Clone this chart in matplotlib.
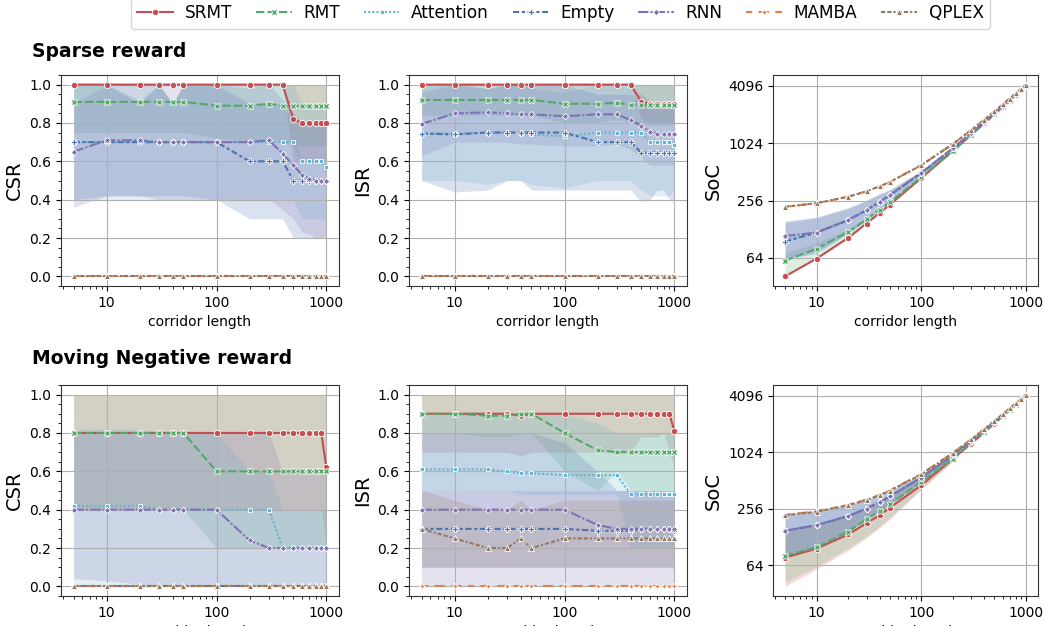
import matplotlib
matplotlib.use("Agg")
import matplotlib.pyplot as plt
from matplotlib.ticker import FixedLocator, FuncFormatter, NullLocator, AutoMinorLocator

# corridor lengths
X = [5, 10, 20, 30, 40, 50, 100, 200, 300, 400, 500, 600, 700, 800, 900, 1000]
METHODS = ["SRMT", "RMT", "Attention", "Empty", "RNN", "MAMBA", "QPLEX"]

# seaborn "deep" colours
COLORS = {"SRMT": "#c44e52", "RMT": "#55a868", "Attention": "#64b5cd", "Empty": "#4c72b0",
          "RNN": "#8172b3", "MAMBA": "#dd8452", "QPLEX": "#937860"}
MARKERS = {"SRMT": "o", "RMT": "X", "Attention": (4, 0, 45), "Empty": "P",
           "RNN": (4, 0, 0), "MAMBA": (4, 1, 0), "QPLEX": "^"}
DASHES = {"SRMT": None, "RMT": (4, 1.5), "Attention": (1, 1), "Empty": (3, 1.25, 1.5, 1.25),
          "RNN": (5, 1, 1, 1), "MAMBA": (3, 3, 5, 3, 5, 3), "QPLEX": (2, 1, 2, 1, 1, 1)}

# ---------------- Sparse reward ----------------
sparse_csr = {
    "SRMT": [1, 1, 1, 1, 1, 1, 1, 1, 1, 1, 0.82, 0.8, 0.8, 0.8, 0.8, 0.8],
    "RMT": [0.91, 0.91, 0.91, 0.91, 0.91, 0.91, 0.89, 0.89, 0.90, 0.89, 0.89, 0.89, 0.89, 0.89, 0.89, 0.89],
    "Attention": [0.70, 0.70, 0.70, 0.70, 0.70, 0.70, 0.70, 0.70, 0.70, 0.70, 0.70, 0.60, 0.60, 0.60, 0.60, 0.57],
    "Empty": [0.70, 0.70, 0.70, 0.70, 0.70, 0.70, 0.70, 0.60, 0.60, 0.60, 0.50, 0.50, 0.50, 0.50, 0.50, 0.50],
    "RNN": [0.65, 0.71, 0.71, 0.70, 0.70, 0.70, 0.70, 0.70, 0.71, 0.64, 0.58, 0.53, 0.51, 0.50, 0.50, 0.50],
    "MAMBA": [0, 0, 0, 0, 0, 0, 0, 0, 0, 0, 0, 0, 0, 0, 0, 0],
    "QPLEX": [0, 0, 0, 0, 0, 0, 0, 0, 0, 0, 0, 0, 0, 0, 0, 0],
}
sparse_csr_lo = {
    "SRMT": [1, 1, 1, 1, 1, 1, 1, 1, 1, 1, 0.6, 0.6, 0.6, 0.6, 0.6, 0.6],
    "RMT": [0.75, 0.75, 0.75, 0.75, 0.75, 0.75, 0.72, 0.7, 0.72, 0.7, 0.68, 0.68, 0.68, 0.68, 0.68, 0.68],
    "Attention": [0.4, 0.4, 0.4, 0.4, 0.4, 0.4, 0.4, 0.4, 0.4, 0.4, 0.4, 0.3, 0.3, 0.3, 0.3, 0.3],
    "Empty": [0.4, 0.42, 0.42, 0.42, 0.42, 0.42, 0.4, 0.3, 0.3, 0.3, 0.2, 0.2, 0.2, 0.2, 0.2, 0.2],
    "RNN": [0.36, 0.42, 0.42, 0.4, 0.4, 0.4, 0.4, 0.4, 0.4, 0.35, 0.3, 0.23, 0.22, 0.2, 0.2, 0.2],
}
sparse_csr_hi = {
    "SRMT": [1, 1, 1, 1, 1, 1, 1, 1, 1, 1, 1, 1, 1, 1, 1, 1],
    "RMT": [1, 1, 0.92, 1, 0.9, 1, 1, 0.98, 1, 1, 1, 1, 1, 1, 1, 1],
    "Attention": [1, 1, 1, 1, 0.9, 1, 1, 1, 1, 1, 1, 0.9, 0.9, 0.9, 0.9, 0.85],
    "Empty": [1, 1, 0.9, 1, 0.9, 1, 1, 0.9, 0.9, 0.9, 0.8, 0.8, 0.8, 0.8, 0.8, 0.8],
    "RNN": [0.9, 1, 1, 1, 1, 1, 1, 1, 1, 0.92, 0.85, 0.8, 0.8, 0.8, 0.8, 0.8],
}

sparse_isr = {
    "SRMT": [1, 1, 1, 1, 1, 1, 1, 1, 1, 1, 0.91, 0.90, 0.90, 0.90, 0.90, 0.90],
    "RMT": [0.92, 0.92, 0.92, 0.92, 0.92, 0.92, 0.90, 0.90, 0.905, 0.895, 0.895, 0.895, 0.895, 0.895, 0.895, 0.895],
    "Attention": [0.745, 0.745, 0.75, 0.75, 0.75, 0.74, 0.73, 0.75, 0.75, 0.75, 0.75, 0.70, 0.70, 0.70, 0.70, 0.685],
    "Empty": [0.745, 0.74, 0.75, 0.75, 0.75, 0.75, 0.75, 0.70, 0.70, 0.70, 0.645, 0.645, 0.645, 0.645, 0.645, 0.645],
    "RNN": [0.795, 0.85, 0.855, 0.85, 0.845, 0.845, 0.835, 0.845, 0.845, 0.815, 0.785, 0.755, 0.745, 0.74, 0.74, 0.74],
    "MAMBA": [0, 0, 0, 0, 0, 0, 0, 0, 0, 0, 0, 0, 0, 0, 0, 0],
    "QPLEX": [0, 0, 0, 0, 0, 0, 0, 0, 0, 0, 0, 0, 0, 0, 0, 0],
}
sparse_isr_lo = {
    "SRMT": [1, 1, 1, 1, 1, 1, 1, 1, 1, 1, 0.82, 0.8, 0.8, 0.8, 0.8, 0.8],
    "RMT": [0.84, 0.84, 0.84, 0.84, 0.84, 0.84, 0.8, 0.8, 0.82, 0.8, 0.79, 0.79, 0.79, 0.79, 0.79, 0.79],
    "Attention": [0.5, 0.5, 0.48, 0.5, 0.5, 0.48, 0.46, 0.5, 0.5, 0.5, 0.45, 0.42, 0.42, 0.42, 0.42, 0.45],
    "Empty": [0.5, 0.44, 0.45, 0.5, 0.5, 0.45, 0.45, 0.45, 0.45, 0.45, 0.39, 0.40, 0.45, 0.45, 0.4, 0.39],
    "RNN": [0.63, 0.7, 0.7, 0.7, 0.69, 0.69, 0.68, 0.68, 0.69, 0.66, 0.62, 0.58, 0.58, 0.58, 0.58, 0.58],
}
sparse_isr_hi = {
    "SRMT": [1, 1, 1, 1, 1, 1, 1, 1, 1, 1, 1, 1, 1, 1, 1, 1],
    "RMT": [1, 1, 1, 1, 1, 1, 1, 1, 1, 1, 1, 1, 1, 1, 1, 1],
    "Attention": [1, 1, 0.98, 1, 1, 0.98, 0.96, 1, 1, 1, 1, 1, 1, 1, 1, 1],
    "Empty": [0.99, 1, 0.98, 1, 1, 1, 1, 0.95, 0.95, 0.95, 0.9, 0.9, 0.9, 0.9, 0.9, 0.9],
    "RNN": [0.96, 1, 1, 1, 1, 1, 1, 1, 1, 0.98, 0.95, 0.92, 0.9, 0.9, 0.9, 0.9],
}

sparse_soc = {
    "SRMT": [41, 63, 104, 147, 190, 231, 440, 845, 1250, 1650, 2050, 2450, 2850, 3250, 3650, 4050],
    "RMT": [60, 80, 120, 162, 205, 245, 450, 850, 1250, 1650, 2050, 2450, 2850, 3250, 3650, 4060],
    "Attention": [100, 120, 160, 203, 248, 291, 497, 902, 1302, 1702, 2102, 2502, 2902, 3302, 3702, 4100],
    "Empty": [95, 118, 159, 202, 247, 290, 495, 900, 1300, 1700, 2100, 2500, 2900, 3300, 3700, 4100],
    "RNN": [109, 118, 160, 204, 248, 292, 500, 905, 1305, 1705, 2105, 2505, 2905, 3305, 3705, 4110],
    "MAMBA": [220, 240, 280, 320, 360, 400, 600, 1000, 1400, 1800, 2200, 2600, 3000, 3400, 3800, 4200],
    "QPLEX": [220, 240, 280, 320, 360, 400, 600, 1000, 1400, 1800, 2200, 2600, 3000, 3400, 3800, 4200],
}
# SoC bands only for the first 8 lengths (5..200); beyond that they are hair-thin
sparse_soc_lo = {
    "RMT": [42, 62, 102, 145, 188, 229, 438, 840],
    "Attention": [62, 72, 115, 158, 205, 250, 455, 860],
    "Empty": [62, 72, 115, 158, 205, 250, 455, 860],
    "RNN": [64, 75, 118, 160, 207, 252, 460, 865],
}
sparse_soc_hi = {
    "RMT": [72, 92, 128, 168, 212, 252, 462, 868],
    "Attention": [155, 170, 213, 256, 300, 330, 525, 920],
    "Empty": [150, 168, 210, 253, 297, 328, 522, 918],
    "RNN": [156, 172, 216, 260, 303, 332, 528, 922],
}

# ---------------- Moving Negative reward ----------------
moving_csr = {
    "SRMT": [0.8, 0.8, 0.8, 0.8, 0.8, 0.8, 0.8, 0.8, 0.8, 0.8, 0.8, 0.8, 0.8, 0.8, 0.8, 0.62],
    "RMT": [0.8, 0.8, 0.8, 0.8, 0.8, 0.8, 0.6, 0.6, 0.6, 0.6, 0.6, 0.6, 0.6, 0.6, 0.6, 0.6],
    "Attention": [0.42, 0.42, 0.42, 0.40, 0.40, 0.40, 0.40, 0.40, 0.40, 0.20, 0.20, 0.20, 0.20, 0.20, 0.20, 0.20],
    "Empty": [0, 0, 0, 0, 0, 0, 0, 0, 0, 0, 0, 0, 0, 0, 0, 0],
    "RNN": [0.40, 0.40, 0.40, 0.40, 0.40, 0.40, 0.40, 0.24, 0.20, 0.20, 0.20, 0.20, 0.20, 0.20, 0.20, 0.20],
    "MAMBA": [0, 0, 0, 0, 0, 0, 0, 0, 0, 0, 0, 0, 0, 0, 0, 0],
    "QPLEX": [0, 0, 0, 0, 0, 0, 0, 0, 0, 0, 0, 0, 0, 0, 0, 0],
}
moving_csr_lo = {
    "SRMT": [0.4, 0.4, 0.4, 0.4, 0.4, 0.4, 0.4, 0.4, 0.4, 0.4, 0.4, 0.4, 0.4, 0.4, 0.4, 0.2],
    "RMT": [0.4, 0.4, 0.4, 0.4, 0.4, 0.4, 0.2, 0.2, 0.2, 0.2, 0.2, 0.2, 0.2, 0.2, 0.2, 0.2],
    "Attention": [0, 0, 0, 0, 0, 0, 0, 0, 0, 0, 0, 0, 0, 0, 0, 0],
    "RNN": [0.04, 0.03, 0.01, 0, 0, 0, 0, 0, 0, 0, 0, 0, 0, 0, 0, 0],
}
moving_csr_hi = {
    "SRMT": [1, 1, 1, 1, 1, 1, 1, 1, 1, 1, 1, 1, 1, 1, 1, 1],
    "RMT": [1, 1, 1, 1, 1, 1, 1, 1, 1, 1, 1, 1, 1, 1, 1, 1],
    "Attention": [0.82, 0.82, 0.82, 0.8, 0.8, 0.8, 0.8, 0.6, 0.6, 0.4, 0.4, 0.4, 0.4, 0.4, 0.4, 0.4],
    "RNN": [0.8, 0.8, 0.8, 0.8, 0.8, 0.8, 0.8, 0.8, 0.8, 0.6, 0.6, 0.6, 0.6, 0.6, 0.6, 0.6],
}

moving_isr = {
    "SRMT": [0.9, 0.9, 0.9, 0.9, 0.89, 0.9, 0.9, 0.9, 0.9, 0.9, 0.9, 0.9, 0.9, 0.9, 0.9, 0.81],
    "RMT": [0.90, 0.90, 0.89, 0.89, 0.90, 0.90, 0.80, 0.71, 0.70, 0.70, 0.70, 0.70, 0.70, 0.70, 0.70, 0.70],
    "Attention": [0.61, 0.61, 0.61, 0.60, 0.59, 0.59, 0.58, 0.58, 0.58, 0.48, 0.48, 0.48, 0.48, 0.48, 0.48, 0.48],
    "Empty": [0.30, 0.30, 0.30, 0.30, 0.30, 0.30, 0.30, 0.29, 0.29, 0.29, 0.30, 0.30, 0.30, 0.30, 0.30, 0.29],
    "RNN": [0.40, 0.40, 0.40, 0.40, 0.40, 0.40, 0.40, 0.32, 0.30, 0.30, 0.30, 0.30, 0.30, 0.30, 0.30, 0.30],
    "MAMBA": [0, 0, 0, 0, 0, 0, 0, 0, 0, 0, 0, 0, 0, 0, 0, 0],
    "QPLEX": [0.30, 0.25, 0.20, 0.20, 0.25, 0.20, 0.25, 0.25, 0.25, 0.25, 0.25, 0.25, 0.25, 0.25, 0.25, 0.25],
}
moving_isr_lo = {
    "SRMT": [0.7, 0.7, 0.7, 0.7, 0.68, 0.7, 0.7, 0.7, 0.7, 0.7, 0.78, 0.78, 0.78, 0.8, 0.7, 0.62],
    "RMT": [0.8, 0.8, 0.78, 0.78, 0.8, 0.8, 0.6, 0.5, 0.6, 0.5, 0.5, 0.5, 0.5, 0.5, 0.5, 0.5],
    "Attention": [0.5, 0.5, 0.5, 0.5, 0.48, 0.48, 0.48, 0.48, 0.48, 0.2, 0.2, 0.2, 0.2, 0.2, 0.2, 0.2],
    "Empty": [0.1, 0.1, 0.1, 0.1, 0.1, 0.1, 0.1, 0.1, 0.1, 0.1, 0.1, 0.1, 0.1, 0.1, 0.1, 0.09],
    "RNN": [0, 0, 0, 0, 0, 0, 0, 0, 0, 0, 0, 0, 0, 0, 0, 0],
    "QPLEX": [0.1, 0.1, 0.1, 0.1, 0.1, 0.1, 0.1, 0.1, 0.1, 0.1, 0.1, 0.1, 0.1, 0.1, 0.1, 0.1],
}
moving_isr_hi = {
    "SRMT": [1, 1, 1, 1, 1, 1, 1, 1, 1, 1, 1, 1, 1, 1, 1, 1],
    "RMT": [1, 1, 1, 1, 1, 1, 1, 1, 1, 1, 1, 1, 1, 1, 1, 1],
    "Attention": [0.9, 0.9, 0.9, 0.9, 0.9, 0.9, 0.9, 0.85, 0.8, 0.8, 0.8, 0.8, 0.8, 0.8, 0.8, 0.8],
    "Empty": [0.8, 0.8, 0.8, 0.8, 0.8, 0.8, 0.75, 0.6, 0.5, 0.5, 0.5, 0.5, 0.5, 0.5, 0.5, 0.5],
    "RNN": [0.5, 0.5, 0.5, 0.5, 0.5, 0.5, 0.5, 0.5, 0.5, 0.5, 0.5, 0.5, 0.5, 0.5, 0.5, 0.5],
    "QPLEX": [0.5, 0.45, 0.4, 0.4, 0.45, 0.4, 0.45, 0.45, 0.45, 0.45, 0.45, 0.45, 0.45, 0.45, 0.45, 0.45],
}

moving_soc = {
    "SRMT": [77, 96, 136, 179, 218, 261, 455, 865, 1265, 1665, 2065, 2465, 2865, 3265, 3665, 4065],
    "RMT": [81, 99, 146, 197, 241, 284, 494, 874, 1274, 1674, 2074, 2474, 2874, 3274, 3674, 4074],
    "Attention": [150, 172, 214, 257, 303, 346, 550, 946, 1346, 1746, 2146, 2546, 2946, 3346, 3746, 4146],
    "Empty": [148, 171, 213, 256, 302, 345, 549, 945, 1345, 1745, 2145, 2545, 2945, 3345, 3745, 4145],
    "RNN": [149, 171, 213, 256, 302, 345, 549, 945, 1345, 1745, 2145, 2545, 2945, 3345, 3745, 4145],
    "MAMBA": [220, 240, 280, 320, 360, 400, 600, 1000, 1400, 1800, 2200, 2600, 3000, 3400, 3800, 4200],
    "QPLEX": [218, 237, 279, 316, 357, 397, 592, 1000, 1400, 1800, 2200, 2600, 3000, 3400, 3800, 4200],
}
moving_soc_lo = {
    "SRMT": [38, 58, 92, 125, 160, 198, 410, 815],
    "RMT": [42, 62, 97, 130, 165, 205, 415, 820],
    "Attention": [80, 99, 146, 197, 241, 284, 494, 874],
    "Empty": [80, 99, 146, 197, 241, 284, 494, 874],
    "RNN": [80, 99, 146, 197, 241, 284, 494, 874],
}
moving_soc_hi = {
    "SRMT": [150, 172, 214, 257, 303, 346, 550, 946],
    "RMT": [150, 172, 214, 257, 303, 346, 550, 946],
    "Attention": [218, 238, 279, 316, 357, 397, 592, 1000],
    "Empty": [218, 238, 279, 316, 357, 397, 592, 1000],
    "RNN": [218, 238, 279, 316, 357, 397, 592, 1000],
}

PANELS = [
    (0, 0, "CSR", sparse_csr, sparse_csr_lo, sparse_csr_hi),
    (0, 1, "ISR", sparse_isr, sparse_isr_lo, sparse_isr_hi),
    (0, 2, "SoC", sparse_soc, sparse_soc_lo, sparse_soc_hi),
    (1, 0, "CSR", moving_csr, moving_csr_lo, moving_csr_hi),
    (1, 1, "ISR", moving_isr, moving_isr_lo, moving_isr_hi),
    (1, 2, "SoC", moving_soc, moving_soc_lo, moving_soc_hi),
]

W, H = 1045, 626
fig = plt.figure(figsize=(W / 100, H / 100), dpi=100)

# axes boxes in pixels: (left, right), (top, bottom)
cols = [(61, 339), (409, 687), (773, 1038)]
rows = [(75, 286), (385, 596)]


def make_ax(r, c):
    (l, rr), (t, b) = cols[c], rows[r]
    return fig.add_axes([l / W, 1 - b / H, (rr - l) / W, (b - t) / H])


handles = None
for r, c, ylabel, means, lo, hi in PANELS:
    ax = make_ax(r, c)
    for m in METHODS:
        col = COLORS[m]
        line, = ax.plot(X, means[m], color=col, lw=1.5, marker=MARKERS[m], ms=4.5,
                        mec="w", mew=0.6, label=m)
        if DASHES[m] is not None:
            line.set_dashes(DASHES[m])
        if m in lo:
            n = len(lo[m])
            ax.fill_between(X[:n], lo[m], hi[m], color=col, alpha=0.2, lw=0)
    ax.set_xscale("log")
    ax.xaxis.set_major_locator(FixedLocator([10, 100, 1000]))
    ax.xaxis.set_major_formatter(FuncFormatter(lambda v, p: f"{int(v)}"))
    if ylabel == "SoC":
        ax.set_yscale("log", base=2)
        ax.yaxis.set_major_locator(FixedLocator([64, 256, 1024, 4096]))
        ax.yaxis.set_major_formatter(FuncFormatter(lambda v, p: f"{int(v)}"))
        ax.yaxis.set_minor_locator(NullLocator())
    else:
        ax.set_yticks([0, 0.2, 0.4, 0.6, 0.8, 1.0])
        ax.yaxis.set_minor_locator(AutoMinorLocator())
    for sp in ax.spines.values():
        sp.set_color("#333333")
    ax.grid(True, which="major", color="#b0b0b0", lw=0.8)
    ax.tick_params(labelsize=10)
    ax.set_xlabel("corridor length", fontsize=10)
    ax.set_ylabel(ylabel, fontsize=14)
    if handles is None:
        handles, labels = ax.get_legend_handles_labels()

fig.text(32 / W, 1 - 57 / H, "Sparse reward", fontsize=13.5, fontweight="bold", va="baseline")
fig.text(32 / W, 1 - 364 / H, "Moving Negative reward", fontsize=13.5, fontweight="bold", va="baseline")

fig.legend(handles, labels, loc="lower center", bbox_to_anchor=(560.5 / W, 1 - 28.5 / H), ncol=7,
           fontsize=12.2, columnspacing=1.4, handletextpad=0.7, handlelength=2.1, borderaxespad=0)

fig.savefig("out.png", dpi=100)
